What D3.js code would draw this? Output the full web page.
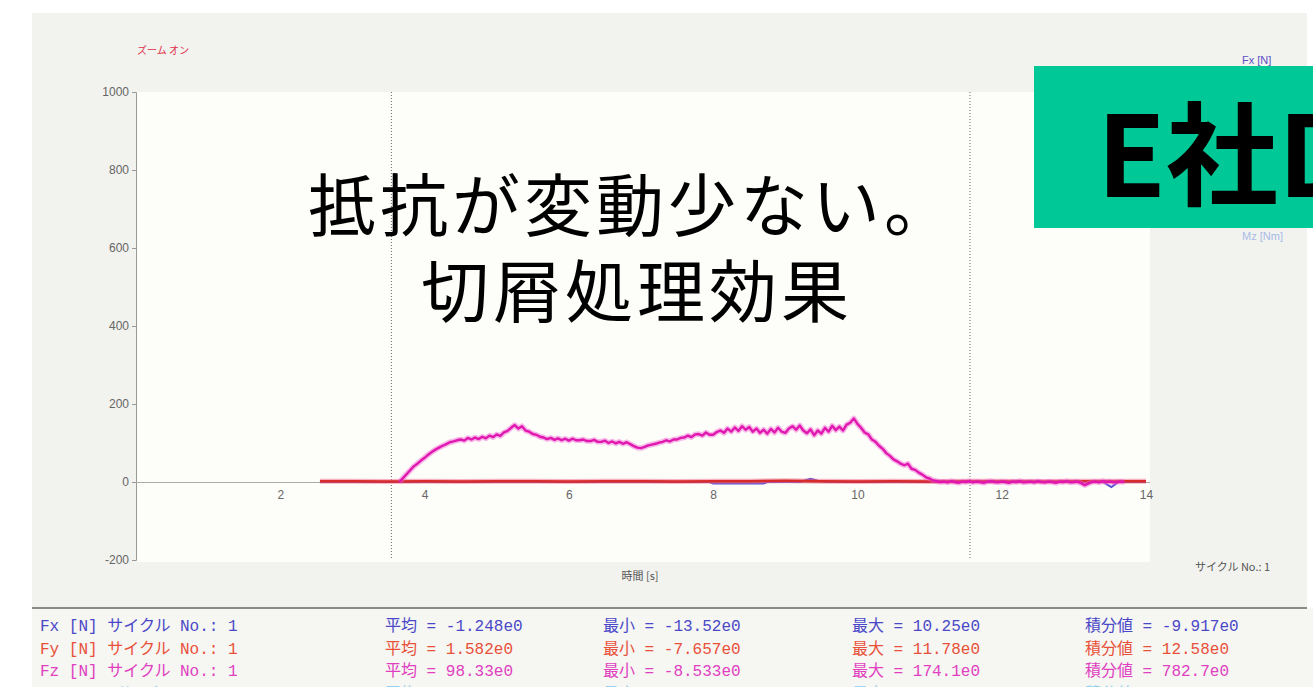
<!DOCTYPE html>
<html>
<head>
<meta charset="utf-8">
<script src="https://cdn.jsdelivr.net/npm/d3@7"></script>
<style>
  body { margin: 0; background: #fff; }
  svg { display: block; }
</style>
</head>
<body>
<div id="chart"></div>
<script>
// y axis ticks and x axis ticks
const yTicks = [-200, 0, 200, 400, 600, 800, 1000];
const xTicks = [2, 4, 6, 8, 10, 12, 14];
const cursorTimes = [3.54, 11.56];

// Fz [N], sampled every 0.05 s starting at 3.65 s
const fzStart = 3.65, fzStep = 0.05;
const fzValues = [
  0, 10, 20, 30, 40, 47, 55, 62, 70, 77,
  83, 88, 93, 97, 102, 104, 107, 109, 106, 113,
  109, 114, 110, 116, 112, 119, 115, 122, 118, 127,
  131, 139, 146, 137, 143, 132, 129, 123, 121, 116,
  114, 110, 113, 108, 112, 107, 111, 106, 111, 107,
  107, 109, 105, 105, 108, 103, 103, 106, 100, 104,
  99, 103, 98, 102, 97, 92, 88, 87, 90, 94,
  96, 98, 101, 103, 107, 104, 109, 109, 113, 114,
  119, 115, 122, 123, 119, 127, 121, 121, 128, 132,
  126, 137, 129, 140, 131, 143, 134, 141, 129, 137,
  126, 134, 124, 136, 127, 139, 129, 126, 137, 143,
  134, 145, 132, 125, 135, 120, 132, 124, 139, 129,
  144, 133, 142, 132, 147, 152, 163, 149, 139, 127,
  122, 109, 103, 93, 85, 74, 67, 58, 53, 47,
  43, 47, 34, 31, 24, 19, 12, 9, 4, 2,
  0, 1, -1, 2, 0, -2, 1, 0, 2, -1,
  1, 0, -2, 1, 2, 0, -1, 1, 0, -2,
  1, 0, 2, -1, 0, 1, -1, 2, 0, -1,
  1, 0, -2, 1, 0, 2, -1, 0, 1, -3,
  -8, -4, 0, 1, -1, 2, 0, 1, -1, 0,
  1, 0
];

// Fy [N]
const fyTimes = [2.55, 3.0, 3.5, 4.0, 4.5, 5.0, 5.5, 6.0, 6.5, 7.0, 7.5, 8.0,
  8.5, 9.0, 9.5, 10.0, 10.5, 11.0, 11.5, 12.0, 12.5, 13.0, 13.5, 14.0];
const fyValues = [2, 2, 1, 2, 1, 2, 2, 1, 2, 2, 1, 2, 2, 3, 2, 1, 2, 1, 2, 2, 1, 2, 2, 2];

// Fx [N]
const fxTimes = [2.55, 4.0, 7.95, 8.0, 8.7, 8.75, 9.2, 9.35, 9.45, 9.6, 13.4, 13.52, 13.62, 14.0];
const fxValues = [0, 0, 0, -4, -4, 0, 0, 8, 3, 0, 0, -13, 0, 0];

// only the legend entries that stay visible around the label box
const legendLabels = ['Fx [N]', 'Mz [Nm]'];
const legendY = [64, 240];
const legendColors = ['#5a50c8', '#a8bce8'];

// statistics table
const statNames = ['Fx [N] サイクル No.: 1', 'Fy [N] サイクル No.: 1', 'Fz [N] サイクル No.: 1', 'Mx [Nm] サイクル No.: 1'];
const statMean = ['-1.248e0', '1.582e0', '98.33e0', '0.052e0'];
const statMin = ['-13.52e0', '-7.657e0', '-8.533e0', '-0.412e0'];
const statMax = ['10.25e0', '11.78e0', '174.1e0', '0.386e0'];
const statInt = ['-9.917e0', '12.58e0', '782.7e0', '0.417e0'];
const statColors = ['#4a48c8', '#e8503a', '#e040c0', '#90d0f0'];

const W = 1313, H = 687;
const svg = d3.select('#chart').append('svg')
  .attr('width', W).attr('height', H);

// grey panel
svg.append('rect').attr('x', 32).attr('y', 13).attr('width', 1275).attr('height', 595)
  .attr('fill', '#f2f2ee');
svg.append('rect').attr('x', 32).attr('y', 608).attr('width', 1281).attr('height', 79)
  .attr('fill', '#f6f6f2');

const x = d3.scaleLinear().domain([0, 14]).range([136, 1146]);
const y = d3.scaleLinear().domain([-200, 1000]).range([560, 92]);

// plot background
svg.append('rect').attr('x', 136).attr('y', 92).attr('width', 1150 - 136).attr('height', 470)
  .attr('fill', '#fdfdf9');

const tickFont = '12px "Liberation Sans", Arial, sans-serif';

// y axis
const yAxis = svg.append('g')
  .attr('transform', 'translate(136,0)')
  .call(d3.axisLeft(y).tickValues(yTicks).tickFormat(d => String(d)).tickSize(4).tickPadding(3));
yAxis.select('.domain').attr('stroke', '#999');
yAxis.selectAll('.tick line').attr('stroke', '#999');
yAxis.selectAll('text').attr('fill', '#666').style('font', tickFont);

// x axis along zero line
const xAxis = svg.append('g')
  .attr('transform', `translate(0,${y(0)})`)
  .call(d3.axisBottom(x).tickValues(xTicks).tickFormat(d => String(d)).tickSize(0).tickPadding(8));
xAxis.select('.domain').attr('stroke', '#aaa').attr('d', `M136,0.5H1150`);
xAxis.selectAll('text').attr('fill', '#666').style('font', tickFont);

// cursor lines
svg.selectAll('.cursor').data(cursorTimes).enter().append('line')
  .attr('class', 'cursor')
  .attr('x1', d => x(d)).attr('x2', d => x(d))
  .attr('y1', 92).attr('y2', 560)
  .attr('stroke', '#666').attr('stroke-width', 1).attr('stroke-dasharray', '1,2');

const line = d3.line().x(d => x(d.t)).y(d => y(d.v));

const fxData = fxTimes.map((t, i) => ({t: t, v: fxValues[i]}));
const fyData = fyTimes.map((t, i) => ({t: t, v: fyValues[i]}));
const fzData = fzValues.map((v, i) => ({t: fzStart + i * fzStep, v: v}));

svg.append('path').attr('d', line(fxData))
  .attr('fill', 'none').attr('stroke', '#5a50d8').attr('stroke-width', 2);
svg.append('path').attr('d', line(fyData))
  .attr('fill', 'none').attr('stroke', '#f06a8a').attr('stroke-width', 5).attr('opacity', 0.5);
svg.append('path').attr('d', line(fyData))
  .attr('fill', 'none').attr('stroke', '#d82a2a').attr('stroke-width', 2.5);
// Fz: soft halo plus core, like the noisy trace
svg.append('path').attr('d', line(fzData))
  .attr('fill', 'none').attr('stroke', '#f060d0').attr('stroke-width', 5.5)
  .attr('stroke-linejoin', 'round').attr('opacity', 0.45);
svg.append('path').attr('d', line(fzData))
  .attr('fill', 'none').attr('stroke', '#e018b0').attr('stroke-width', 2.4)
  .attr('stroke-linejoin', 'round');

// small labels
svg.append('text').attr('x', 137).attr('y', 54).text('ズーム オン')
  .attr('fill', '#e0304a').style('font', '10px "Noto Sans CJK JP", sans-serif');
svg.append('text').attr('x', 640).attr('y', 580).attr('text-anchor', 'middle').text('時間 [s]')
  .attr('fill', '#555').style('font', '11px "Noto Sans CJK JP", sans-serif');
svg.append('text').attr('x', 1195).attr('y', 571).text('サイクル No.: 1')
  .attr('fill', '#555').style('font', '11px "Noto Sans CJK JP", sans-serif');

// legend
svg.selectAll('.legend').data(legendLabels).enter().append('text')
  .attr('class', 'legend')
  .attr('x', 1242).attr('y', (d, i) => legendY[i])
  .attr('fill', (d, i) => legendColors[i])
  .style('font', '11px "Liberation Sans", Arial, sans-serif')
  .text(d => d);

// separator and statistics table
svg.append('line').attr('x1', 32).attr('x2', 1307).attr('y1', 608).attr('y2', 608)
  .attr('stroke', '#8a8a8a').attr('stroke-width', 2);
const statFont = '16px "Liberation Mono", "Noto Sans CJK JP", monospace';
const cols = [
  {x: 40, get: i => statNames[i]},
  {x: 385, get: i => '平均 = ' + statMean[i]},
  {x: 603, get: i => '最小 = ' + statMin[i]},
  {x: 852, get: i => '最大 = ' + statMax[i]},
  {x: 1085, get: i => '積分値 = ' + statInt[i]}
];
statNames.forEach((n, i) => {
  cols.forEach(c => {
    svg.append('text').attr('x', c.x).attr('y', 631 + i * 22.5)
      .attr('fill', statColors[i]).style('font', statFont)
      .text(c.get(i));
  });
});

// overlay annotation
const noteFont = '68px "Noto Sans CJK JP", sans-serif';
svg.append('text').attr('x', 632).attr('y', 231).attr('text-anchor', 'middle')
  .style('font', noteFont).style('letter-spacing', '4px').attr('fill', '#000')
  .text('抵抗が変動少ない。');
svg.append('text').attr('x', 637).attr('y', 317).attr('text-anchor', 'middle')
  .style('font', noteFont).style('letter-spacing', '4px').attr('fill', '#000')
  .text('切屑処理効果');

// green label box
svg.append('rect').attr('x', 1034).attr('y', 66).attr('width', 279).attr('height', 162)
  .attr('fill', '#00c896');
svg.append('text').attr('x', 1097).attr('y', 197)
  .style('font', 'bold 112px "Noto Sans CJK JP", sans-serif').attr('fill', '#000')
  .text('E社D');
</script>
</body>
</html>
